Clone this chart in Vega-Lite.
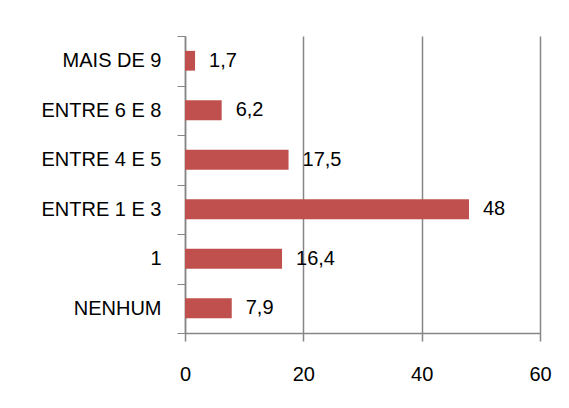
{
  "$schema": "https://vega.github.io/schema/vega-lite/v6.json",
  "autosize": "none",
  "width": 355,
  "height": 297,
  "padding": {"left": 185, "top": 36, "right": 29, "bottom": 75},
  "background": "white",
  "data": {
    "values": [
      {"categoria": "MAIS DE 9", "valor": 1.7},
      {"categoria": "ENTRE 6 E 8", "valor": 6.2},
      {"categoria": "ENTRE 4 E 5", "valor": 17.5},
      {"categoria": "ENTRE 1 E 3", "valor": 48},
      {"categoria": "1", "valor": 16.4},
      {"categoria": "NENHUM", "valor": 7.9}
    ]
  },
  "encoding": {
    "y": {
      "field": "categoria",
      "type": "nominal",
      "sort": null,
      "scale": {"paddingInner": 0, "paddingOuter": 0},
      "axis": {
        "title": null,
        "tickBand": "extent",
        "tickSize": 8,
        "tickColor": "#868686",
        "tickWidth": 1,
        "domainColor": "#868686",
        "domainWidth": 1.5,
        "labelPadding": 16,
        "labelFontSize": 20,
        "labelFont": "Liberation Sans",
        "labelColor": "#000000",
        "grid": false
      }
    },
    "x": {
      "field": "valor",
      "type": "quantitative",
      "scale": {"domain": [0, 60], "nice": false},
      "axis": {
        "title": null,
        "values": [0, 20, 40, 60],
        "tickSize": 8,
        "tickColor": "#868686",
        "tickWidth": 1.5,
        "domainColor": "#868686",
        "domainWidth": 1.5,
        "gridColor": "#868686",
        "gridWidth": 1.5,
        "labelPadding": 23,
        "labelFontSize": 20,
        "labelFont": "Liberation Sans",
        "labelColor": "#000000",
        "labelFlush": false
      }
    }
  },
  "layer": [
    {"mark": {"type": "bar", "color": "#C0504D", "height": {"band": 0.4}}},
    {
      "mark": {"type": "text", "align": "left", "baseline": "middle", "dx": 14, "fontSize": 20, "font": "Liberation Sans", "color": "#000000"},
      "encoding": {"text": {"field": "valor", "type": "quantitative", "format": ".3~g"}}
    }
  ],
  "config": {
    "view": {"stroke": null},
    "locale": {"number": {"decimal": ",", "thousands": ".", "grouping": [3], "currency": ["", ""]}}
  }
}
